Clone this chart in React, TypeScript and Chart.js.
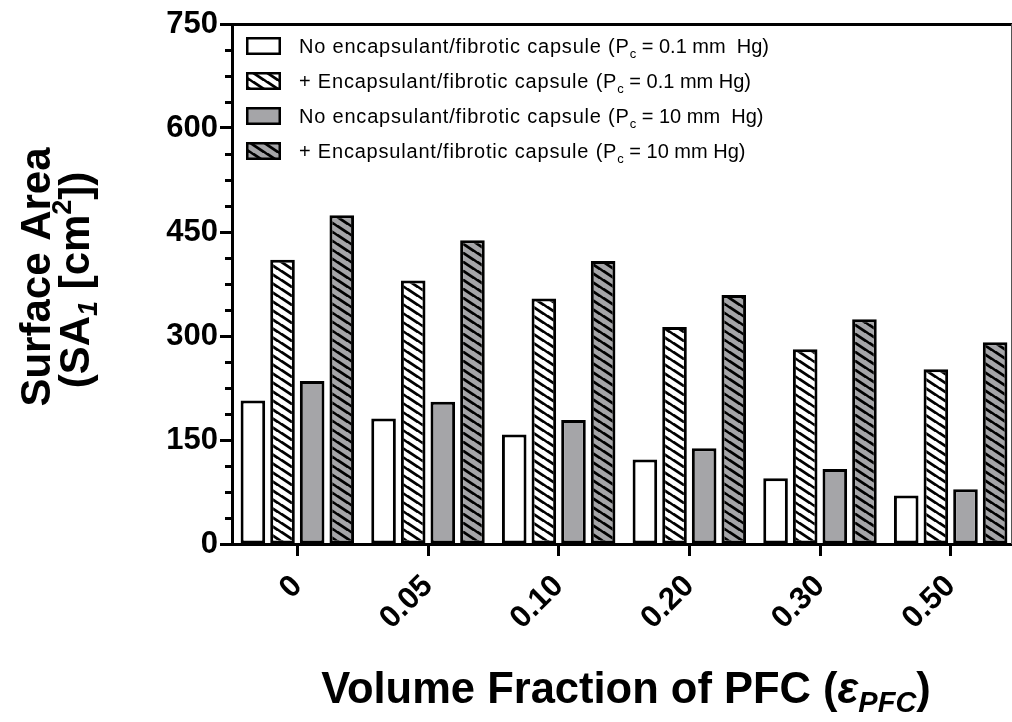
import React, { useEffect, useRef } from 'react';
import { Chart, registerables } from 'chart.js';

Chart.register(...registerables);

// ---- data ----
const categories = ['0', '0.05', '0.10', '0.20', '0.30', '0.50'];
const noCapsuleLowPc = [207, 181, 158, 122, 95, 70];
const capsuleLowPc = [410, 380, 354, 313, 281, 252];
const noCapsuleHighPc = [235, 205, 179, 138, 108, 79];
const capsuleHighPc = [474, 438, 408, 359, 324, 291];

const seriesLabels = [
  'No encapsulant/fibrotic capsule (Pc = 0.1 mm  Hg)',
  '+ Encapsulant/fibrotic capsule (Pc = 0.1 mm Hg)',
  'No encapsulant/fibrotic capsule (Pc = 10 mm  Hg)',
  '+ Encapsulant/fibrotic capsule (Pc = 10 mm Hg)',
];
const legendPrefix = [
  'No encapsulant/fibrotic capsule (P',
  '+ Encapsulant/fibrotic capsule (P',
  'No encapsulant/fibrotic capsule (P',
  '+ Encapsulant/fibrotic capsule (P',
];
const legendSuffix = [' = 0.1 mm  Hg)', ' = 0.1 mm Hg)', ' = 10 mm  Hg)', ' = 10 mm Hg)'];

const yMin = 0;
const yMax = 750;
const yMajorStep = 150;
const yMinorStep = 37.5;

const FONT = '"Liberation Sans", Arial, Helvetica, sans-serif';
const GRAY = '#a5a5a8';

function makeHatch(bg: string): CanvasPattern | string {
  const W = 14;
  const H = 9.5;
  const c = document.createElement('canvas');
  c.width = W;
  c.height = H;
  const g = c.getContext('2d');
  if (!g) return bg;
  g.fillStyle = bg;
  g.fillRect(0, 0, W, H);
  g.strokeStyle = '#000';
  g.lineWidth = 2.7;
  const s = H / W;
  for (const k of [-1, 0, 1]) {
    g.beginPath();
    g.moveTo(-2, k * H - 2 * s);
    g.lineTo(W + 2, k * H + H + 2 * s);
    g.stroke();
  }
  return g.createPattern(c, 'repeat') || bg;
}

export default function App() {
  const ref = useRef<HTMLCanvasElement | null>(null);

  useEffect(() => {
    const canvas = ref.current;
    if (!canvas) return;
    const hatchWhite = makeHatch('#ffffff');
    const hatchGray = makeHatch(GRAY);
    const fills: any[] = ['#ffffff', hatchWhite, GRAY, hatchGray];

    const annotate = {
      id: 'annotate',
      afterDraw(chart: any) {
        const ctx: any = chart.ctx;
        const area = chart.chartArea;
        const ys = chart.scales.y;
        ctx.save();

        // minor ticks on y axis
        ctx.strokeStyle = '#000';
        ctx.lineWidth = 3;
        for (let v = yMin; v <= yMax; v += yMinorStep) {
          if (v % yMajorStep === 0) continue;
          const py = Math.round(ys.getPixelForValue(v)) + 0.5;
          ctx.beginPath();
          ctx.moveTo(area.left - 7, py);
          ctx.lineTo(area.left, py);
          ctx.stroke();
        }

        // top frame line and thin right line
        ctx.lineWidth = 3;
        ctx.beginPath();
        ctx.moveTo(area.left - 1, area.top + 0.5);
        ctx.lineTo(area.right, area.top + 0.5);
        ctx.stroke();
        ctx.strokeStyle = '#555';
        ctx.lineWidth = 1;
        ctx.beginPath();
        ctx.moveTo(1011.5, area.top);
        ctx.lineTo(1011.5, area.bottom);
        ctx.stroke();

        // legend
        const boxX = area.left + 14;
        const boxW = 35;
        const boxH = 18;
        const textX = area.left + 67;
        for (let i = 0; i < 4; i++) {
          const cy = area.top + 22 + i * 35;
          ctx.fillStyle = fills[i];
          ctx.fillRect(boxX, cy - boxH / 2, boxW, boxH);
          ctx.strokeStyle = '#000';
          ctx.lineWidth = 2.5;
          ctx.strokeRect(boxX + 1.25, cy - boxH / 2 + 1.25, boxW - 2.5, boxH - 2.5);

          const base = cy + 7;
          ctx.fillStyle = '#000';
          ctx.textAlign = 'left';
          ctx.textBaseline = 'alphabetic';
          ctx.font = `20px ${FONT}`;
          ctx.letterSpacing = '0.8px';
          ctx.fillText(legendPrefix[i], textX, base);
          let x = textX + ctx.measureText(legendPrefix[i]).width;
          ctx.letterSpacing = '0px';
          ctx.font = `13px ${FONT}`;
          ctx.fillText('c', x, base + 5);
          x += ctx.measureText('c').width;
          ctx.font = `20px ${FONT}`;
          ctx.fillText(legendSuffix[i], x, base);
        }
        ctx.letterSpacing = '0px';

        // y axis title (rotated)
        const drawSegs = (segs: { t: string; f: string; dy: number }[], cx: number, cy: number) => {
          ctx.save();
          ctx.translate(cx, cy);
          ctx.rotate(-Math.PI / 2);
          let total = 0;
          for (const s of segs) {
            ctx.font = s.f;
            total += ctx.measureText(s.t).width;
          }
          let x = -total / 2;
          ctx.fillStyle = '#000';
          ctx.textAlign = 'left';
          ctx.textBaseline = 'alphabetic';
          for (const s of segs) {
            ctx.font = s.f;
            ctx.fillText(s.t, x, s.dy);
            x += ctx.measureText(s.t).width;
          }
          ctx.restore();
        };
        const big = `bold 42px ${FONT}`;
        const small = `bold 27px ${FONT}`;
        const smallI = `italic bold 27px ${FONT}`;
        drawSegs([{ t: 'Surface Area', f: big, dy: 0 }], 50, 277);
        drawSegs(
          [
            { t: '(', f: big, dy: 0 },
            { t: 'SA', f: big, dy: 0 },
            { t: '1', f: smallI, dy: 8 },
            { t: ' [cm', f: big, dy: 0 },
            { t: '2', f: small, dy: -18 },
            { t: '])', f: big, dy: 0 },
          ],
          89,
          280
        );

        // x axis title
        const xsegs = [
          { t: 'Volume Fraction of PFC (', f: `bold 43.5px ${FONT}`, dy: 0 },
          { t: 'ε', f: `italic bold 43.5px ${FONT}`, dy: 0 },
          { t: 'PFC', f: `italic bold 29px ${FONT}`, dy: 9 },
          { t: ')', f: `bold 43.5px ${FONT}`, dy: 0 },
        ];
        let tw = 0;
        for (const s of xsegs) {
          ctx.font = s.f;
          tw += ctx.measureText(s.t).width;
        }
        let xx = 626 - tw / 2;
        ctx.fillStyle = '#000';
        ctx.textAlign = 'left';
        ctx.textBaseline = 'alphabetic';
        for (const s of xsegs) {
          ctx.font = s.f;
          ctx.fillText(s.t, xx, 703 + s.dy);
          xx += ctx.measureText(s.t).width;
        }
        ctx.restore();
      },
    };

    const series = [noCapsuleLowPc, capsuleLowPc, noCapsuleHighPc, capsuleHighPc];
    const chart = new Chart(canvas, {
      type: 'bar',
      data: {
        labels: categories,
        datasets: series.map((d, i) => ({
          label: seriesLabels[i],
          data: d,
          backgroundColor: fills[i],
          borderColor: '#000',
          borderWidth: 3,
          borderSkipped: false,
          categoryPercentage: 0.907,
          barPercentage: 0.83,
        })),
      },
      options: {
        responsive: false,
        animation: false,
        layout: { padding: { top: 24, right: 0, left: 0, bottom: 0 } },
        plugins: { legend: { display: false }, tooltip: { enabled: false }, title: { display: false } },
        scales: {
          x: {
            grid: {
              display: true,
              drawOnChartArea: false,
              offset: false,
              tickLength: 12,
              tickWidth: 3,
              tickColor: '#000',
            },
            border: { color: '#000', width: 3 },
            ticks: {
              color: '#000',
              font: { family: FONT, size: 31, weight: 'bold' },
              minRotation: 45,
              maxRotation: 45,
              autoSkip: false,
              padding: 12,
            },
            afterFit: (s: any) => {
              s.height = 178;
            },
          },
          y: {
            min: yMin,
            max: yMax,
            grid: { drawOnChartArea: false, tickLength: 12, tickWidth: 3, tickColor: '#000' },
            border: { color: '#000', width: 3 },
            ticks: {
              stepSize: yMajorStep,
              color: '#000',
              font: { family: FONT, size: 31, weight: 'bold' },
              padding: 2,
            },
            afterFit: (s: any) => {
              s.width = 232;
            },
          },
        },
      } as any,
      plugins: [annotate],
    });
    return () => chart.destroy();
  }, []);

  return (
    <div
      style={{
        position: 'fixed',
        left: 0,
        top: 0,
        width: 1012,
        height: 722,
        overflow: 'hidden',
        background: '#fff',
      }}
    >
      <canvas ref={ref} width={1016} height={722} style={{ display: 'block' }} />
    </div>
  );
}
